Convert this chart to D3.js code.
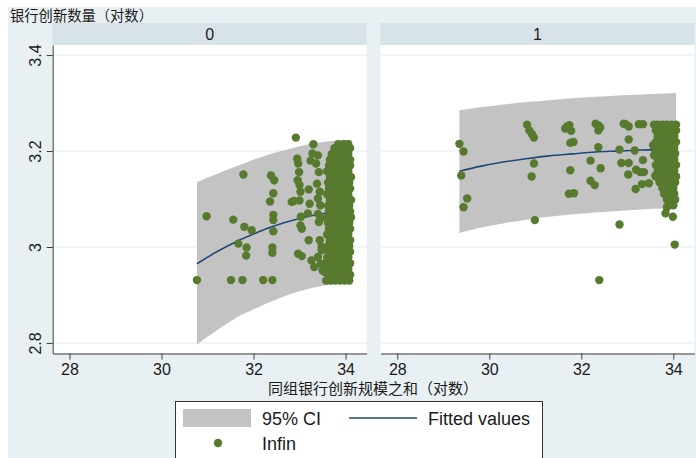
<!DOCTYPE html>
<html>
<head>
<meta charset="utf-8">
<title>Bank innovation</title>
<style>
body { margin: 0; background: #fff; }
text { font-family: "Liberation Sans", Arial, "Noto Sans CJK SC", sans-serif; fill: #1a1a1a; }
.cjk { font-family: "Noto Sans CJK SC", sans-serif; }
</style>
</head>
<body>
<svg id="chart"></svg>
<script src="https://cdnjs.cloudflare.com/ajax/libs/d3/7.8.5/d3.min.js"></script>
<script>
// group labels
var groups = ['0', '1'];
var xTicks = [28, 30, 32, 34];
var yTicks = [2.8, 3, 3.2, 3.4];

// fitted curve + 95% CI, group 0
var fit0X  = [30.77, 31.2, 31.6, 32.0, 32.4, 32.8, 33.2, 33.6, 34.0, 34.13];
var fit0Y  = [2.965, 2.990, 3.010, 3.027, 3.042, 3.054, 3.064, 3.071, 3.075, 3.076];
var ci0Hi  = [3.135, 3.152, 3.167, 3.182, 3.195, 3.205, 3.214, 3.220, 3.223, 3.223];
var ci0Lo  = [2.797, 2.826, 2.851, 2.870, 2.887, 2.902, 2.913, 2.921, 2.925, 2.926];

// fitted curve + 95% CI, group 1
var fit1X  = [29.35, 29.8, 30.3, 30.8, 31.3, 31.8, 32.3, 32.8, 33.3, 33.8, 34.06];
var fit1Y  = [3.158, 3.168, 3.177, 3.184, 3.190, 3.194, 3.198, 3.200, 3.202, 3.203, 3.203];
var ci1Hi  = [3.285, 3.291, 3.297, 3.302, 3.306, 3.310, 3.313, 3.316, 3.318, 3.320, 3.321];
var ci1Lo  = [3.029, 3.040, 3.049, 3.057, 3.063, 3.068, 3.072, 3.075, 3.078, 3.080, 3.080];

// Infin observations, group 0
var points0 = [
  [30.77,2.931],[30.98,3.064],[31.51,2.931],[31.76,2.931],[32.21,2.931],[32.41,2.931],
  [31.78,3.151],[31.56,3.057],[31.80,3.042],[31.96,3.035],[31.67,3.007],[31.85,2.999],[31.84,2.982],
  [32.38,3.149],[32.45,3.139],[32.43,3.112],[32.36,3.095],[32.43,3.067],[32.43,3.056],[32.43,3.033],
  [32.41,2.999],[32.41,2.988],
  [32.92,3.228],[33.30,3.214],[32.95,3.184],[32.97,3.174],[32.99,3.156],[32.96,3.139],[33.00,3.129],
  [33.02,3.115],[33.00,3.097],[32.83,3.094],[32.88,3.096],[33.03,3.063],[33.02,3.045],[33.05,3.038],
  [32.97,2.986],[33.05,2.981],
  [33.40,3.191],[33.36,3.174],[33.42,3.156],[33.38,3.132],[33.44,3.115],[33.40,3.101],[33.45,3.087],
  [33.40,3.069],[33.46,3.059],[33.42,3.052],[33.44,3.014],[33.48,3.000],[33.40,2.979],[33.46,2.965],
  [33.50,2.951],[33.20,3.014],[33.26,2.972],[33.32,2.958],[33.55,2.965],[33.55,2.948],[33.48,2.993],
  [33.24,3.180],[33.28,3.195],[33.20,3.120],[33.22,3.090],[33.18,3.070],
  [33.58,2.930],[33.68,2.930],[33.78,2.930],[33.88,2.930],[33.98,2.930],[34.08,2.930],
  [33.64,2.942],[33.76,2.942],[33.90,2.942],[34.02,2.942],[34.10,2.942],
  [33.62,2.954],[33.72,2.954],[33.84,2.954],[33.96,2.954],[34.06,2.954],
  [33.66,2.966],[33.78,2.966],[33.90,2.966],[34.00,2.966],[34.10,2.966],
  [33.60,2.978],[33.70,2.978],[33.82,2.978],[33.94,2.978],[34.06,2.978],
  [33.64,2.990],[33.76,2.990],[33.88,2.990],[34.00,2.990],[34.10,2.990],
  [33.62,3.002],[33.72,3.002],[33.84,3.002],[33.96,3.002],[34.08,3.002],
  [33.66,3.014],[33.78,3.014],[33.90,3.014],[34.02,3.014],[34.10,3.014],
  [33.60,3.026],[33.70,3.026],[33.82,3.026],[33.94,3.026],[34.06,3.026],
  [33.64,3.038],[33.76,3.038],[33.88,3.038],[34.00,3.038],[34.10,3.038],
  [33.62,3.050],[33.72,3.050],[33.84,3.050],[33.96,3.050],[34.08,3.050],
  [33.60,3.062],[33.70,3.062],[33.80,3.062],[33.92,3.062],[34.04,3.062],[34.12,3.062],
  [33.64,3.074],[33.76,3.074],[33.88,3.074],[34.00,3.074],[34.10,3.074],
  [33.62,3.086],[33.72,3.086],[33.84,3.086],[33.96,3.086],[34.08,3.086],
  [33.66,3.098],[33.78,3.098],[33.90,3.098],[34.02,3.098],[34.12,3.098],
  [33.60,3.110],[33.70,3.110],[33.82,3.110],[33.94,3.110],[34.06,3.110],
  [33.64,3.122],[33.76,3.122],[33.88,3.122],[34.00,3.122],[34.10,3.122],
  [33.62,3.134],[33.72,3.134],[33.84,3.134],[33.96,3.134],[34.08,3.134],
  [33.66,3.146],[33.78,3.146],[33.90,3.146],[34.02,3.146],[34.12,3.146],
  [33.60,3.158],[33.70,3.158],[33.82,3.158],[33.94,3.158],[34.06,3.158],
  [33.64,3.170],[33.76,3.170],[33.88,3.170],[34.00,3.170],[34.10,3.170],
  [33.66,3.182],[33.78,3.182],[33.90,3.182],[34.02,3.182],[34.10,3.182],
  [33.70,3.194],[33.84,3.194],[33.96,3.194],[34.06,3.194],
  [33.76,3.206],[33.90,3.206],[34.00,3.206],[34.10,3.206],
  [33.84,3.214],[33.96,3.214],[34.06,3.214]
];

// Infin observations, group 1
var points1 = [
  [29.35,3.215],[29.44,3.199],[29.39,3.149],[29.52,3.101],[29.44,3.083],
  [30.82,3.255],[30.87,3.243],[30.93,3.235],[30.97,3.228],[30.97,3.174],[30.92,3.147],[30.99,3.056],
  [31.65,3.247],[31.74,3.254],[31.78,3.242],[31.69,3.251],[31.76,3.217],[31.83,3.219],
  [31.76,3.160],[31.73,3.111],[31.84,3.112],
  [32.31,3.257],[32.38,3.253],[32.37,3.243],[32.41,3.249],[32.37,3.208],[32.20,3.180],[32.42,3.164],
  [32.20,3.138],[32.29,3.129],[32.39,2.931],
  [32.96,3.256],[33.03,3.251],[32.92,3.257],[33.25,3.256],[33.34,3.256],[33.03,3.224],[32.83,3.203],
  [33.16,3.201],[32.87,3.175],[33.03,3.175],[33.34,3.181],[33.19,3.161],[33.28,3.156],[33.02,3.151],
  [33.36,3.156],[33.18,3.121],[33.32,3.131],[33.47,3.133],[32.83,3.047],
  [34.03,3.005],[33.86,3.083],[33.83,3.070],[33.99,3.063],
  [33.56,3.212],[33.58,3.191],[33.61,3.149],
  [33.58,3.255],[33.66,3.255],[33.76,3.255],[33.86,3.255],[33.96,3.255],[34.06,3.255],
  [33.62,3.243],[33.72,3.243],[33.84,3.243],[33.96,3.243],[34.06,3.243],
  [33.66,3.231],[33.78,3.231],[33.90,3.231],[34.02,3.231],
  [33.62,3.219],[33.72,3.219],[33.84,3.219],[33.96,3.219],[34.06,3.219],
  [33.66,3.207],[33.78,3.207],[33.90,3.207],[34.02,3.207],
  [33.60,3.195],[33.72,3.195],[33.84,3.195],[33.96,3.195],[34.04,3.195],
  [33.66,3.183],[33.78,3.183],[33.90,3.183],[34.02,3.183],
  [33.62,3.171],[33.72,3.171],[33.84,3.171],[33.96,3.171],[34.06,3.171],
  [33.66,3.159],[33.78,3.159],[33.90,3.159],[34.02,3.159],
  [33.62,3.147],[33.74,3.147],[33.86,3.147],[33.98,3.147],[34.06,3.147],
  [33.70,3.135],[33.82,3.135],[33.94,3.135],[34.04,3.135],
  [33.76,3.123],[33.88,3.123],[34.00,3.123],
  [33.80,3.111],[33.92,3.111],[34.02,3.111],
  [33.86,3.099],[33.98,3.099],[34.04,3.099],
  [33.90,3.087],[34.00,3.087]
];

var width = 696, height = 458;
var plotTop = 45, plotBottom = 353.5;
var panelW = 314;
var panelLeft = [52.7, 380.5];

var colors = {
  bg: '#e9f0f3', strip: '#d7e3e9', grid: '#eef2f4',
  ci: '#c3c3c3', line: '#1f4a78', dot: '#587a2e', axis: '#3a3a3a'
};

var svg = d3.select('#chart')
  .attr('width', width)
  .attr('height', height);

svg.append('rect')
  .attr('x', 8).attr('y', 7)
  .attr('width', width - 8).attr('height', height - 7)
  .attr('fill', colors.bg);

svg.append('text')
  .attr('class', 'cjk')
  .attr('x', 10).attr('y', 21)
  .attr('font-size', 14.3)
  .text('银行创新数量（对数）');

var y = d3.scaleLinear().domain([2.778, 3.421]).range([plotBottom, plotTop]);

var panels = [
  { label: groups[0], fx: fit0X, fy: fit0Y, hi: ci0Hi, lo: ci0Lo, pts: points0 },
  { label: groups[1], fx: fit1X, fy: fit1Y, hi: ci1Hi, lo: ci1Lo, pts: points1 }
];

panels.forEach(function(p, i) {
  var left = panelLeft[i];
  var x = d3.scaleLinear().domain([27.635, 34.46]).range([left, left + panelW]);
  var g = svg.append('g');

  // strip header
  g.append('rect')
    .attr('x', left).attr('y', 23)
    .attr('width', panelW).attr('height', plotTop - 23)
    .attr('fill', colors.strip);
  g.append('text')
    .attr('x', left + panelW / 2).attr('y', 39.5)
    .attr('text-anchor', 'middle')
    .attr('font-size', 16)
    .text(p.label);

  // plot region
  g.append('rect')
    .attr('x', left).attr('y', plotTop)
    .attr('width', panelW).attr('height', plotBottom - plotTop)
    .attr('fill', '#fff');

  g.selectAll('.grid')
    .data(yTicks)
    .enter().append('line')
    .attr('class', 'grid')
    .attr('x1', left).attr('x2', left + panelW)
    .attr('y1', function(d) { return y(d); })
    .attr('y2', function(d) { return y(d); })
    .attr('stroke', colors.grid)
    .attr('stroke-width', 1.5);

  var idx = d3.range(p.fx.length);

  var area = d3.area()
    .x(function(k) { return x(p.fx[k]); })
    .y0(function(k) { return y(p.lo[k]); })
    .y1(function(k) { return y(p.hi[k]); })
    .curve(d3.curveMonotoneX);

  g.append('path')
    .datum(idx)
    .attr('d', area)
    .attr('fill', colors.ci);

  var line = d3.line()
    .x(function(k) { return x(p.fx[k]); })
    .y(function(k) { return y(p.fy[k]); })
    .curve(d3.curveMonotoneX);

  g.append('path')
    .datum(idx)
    .attr('d', line)
    .attr('fill', 'none')
    .attr('stroke', colors.line)
    .attr('stroke-width', 1.6);

  g.selectAll('circle')
    .data(p.pts)
    .enter().append('circle')
    .attr('cx', function(d) { return x(d[0]); })
    .attr('cy', function(d) { return y(d[1]); })
    .attr('r', 4.2)
    .attr('fill', colors.dot);

  // x axis
  var xAxis = g.append('g')
    .attr('transform', 'translate(0,' + plotBottom + ')')
    .call(d3.axisBottom(x).tickValues(xTicks).tickSize(6).tickSizeOuter(0).tickPadding(4)
      .tickFormat(d3.format('d')));
  xAxis.selectAll('path, line').attr('stroke', colors.axis);
  xAxis.selectAll('text').attr('font-size', 16).attr('fill', '#1a1a1a')
    .style('font-family', '"Liberation Sans", Arial, sans-serif');

  // y axis only on first panel
  if (i === 0) {
    var yAxis = g.append('g')
      .attr('transform', 'translate(' + left + ',0)')
      .call(d3.axisLeft(y).tickValues(yTicks).tickSize(6).tickSizeOuter(0)
        .tickFormat(function(d) { return d === 3 ? '3' : d3.format('.1f')(d); }));
    yAxis.selectAll('path, line').attr('stroke', colors.axis);
    yAxis.selectAll('text')
      .attr('font-size', 16).attr('fill', '#1a1a1a')
      .style('font-family', '"Liberation Sans", Arial, sans-serif')
      .attr('text-anchor', 'middle')
      .attr('transform', 'rotate(-90)')
      .attr('x', 0).attr('y', -12).attr('dy', 0);
  }
});

svg.append('text')
  .attr('class', 'cjk')
  .attr('x', 373).attr('y', 394)
  .attr('text-anchor', 'middle')
  .attr('font-size', 15)
  .text('同组银行创新规模之和（对数）');

// legend
var lg = svg.append('g');
lg.append('rect')
  .attr('x', 175.5).attr('y', 401.5)
  .attr('width', 367).attr('height', 60)
  .attr('fill', '#fff')
  .attr('stroke', '#333').attr('stroke-width', 1);
lg.append('rect')
  .attr('x', 183).attr('y', 409)
  .attr('width', 68).attr('height', 18)
  .attr('fill', colors.ci);
lg.append('text').attr('x', 262).attr('y', 425).attr('font-size', 18).text('95% CI');
lg.append('line')
  .attr('x1', 349).attr('x2', 417).attr('y1', 418).attr('y2', 418)
  .attr('stroke', colors.line).attr('stroke-width', 1.6);
lg.append('text').attr('x', 428).attr('y', 425).attr('font-size', 18).text('Fitted values');
lg.append('circle').attr('cx', 218).attr('cy', 443).attr('r', 4.2).attr('fill', colors.dot);
lg.append('text').attr('x', 262).attr('y', 450).attr('font-size', 18).text('Infin');
</script>
</body>
</html>
